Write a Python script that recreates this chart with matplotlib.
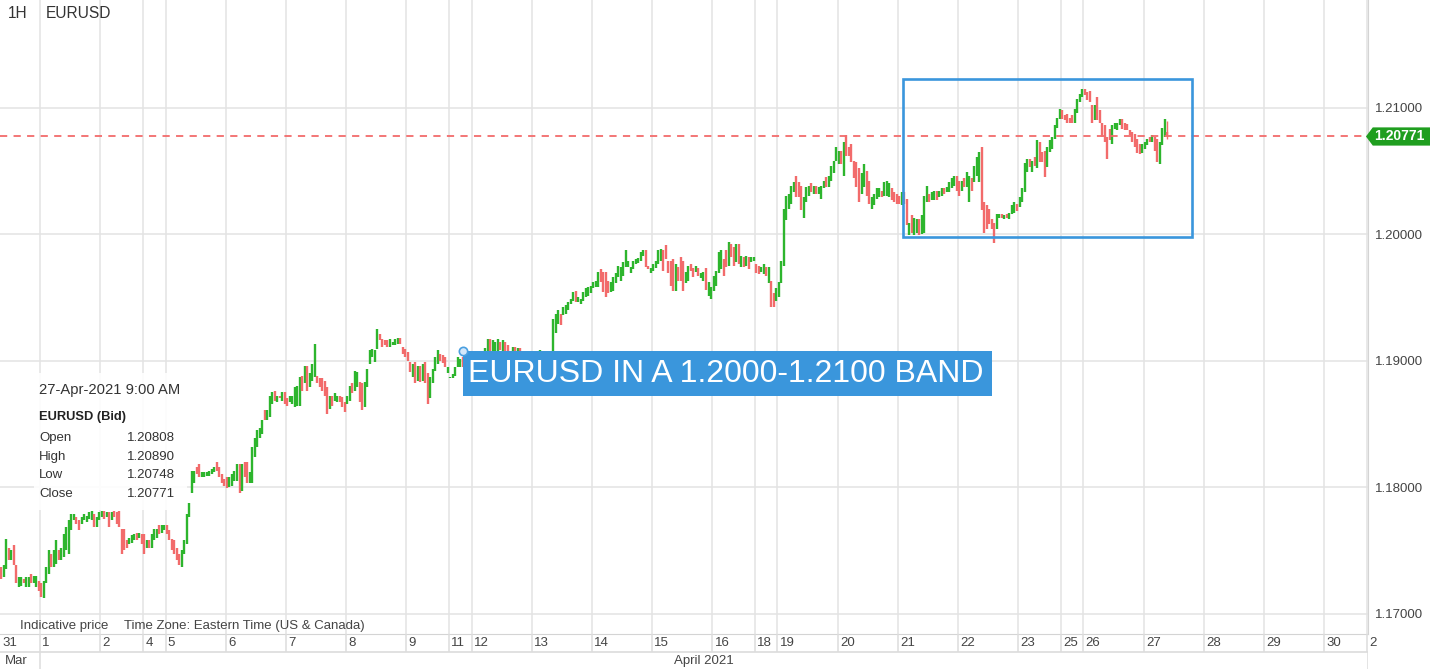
import matplotlib.pyplot as plt
import matplotlib.transforms as mtransforms
from matplotlib.patches import Rectangle, Polygon
import numpy as np

plt.rcParams['font.family'] = ['Liberation Sans', 'DejaVu Sans']

# hourly EURUSD bars, (open, close) per hour, one list per trading day
mar31 = [(1.1737, 1.1727), (1.1729, 1.1738), (1.1735, 1.1759), (1.1752, 1.1742), (1.1742, 1.1750),
         (1.1754, 1.1738), (1.1738, 1.1724), (1.1721, 1.1729), (1.1722, 1.1729), (1.1727, 1.1724),
         (1.1721, 1.1729), (1.1721, 1.1729), (1.1731, 1.1724), (1.1724, 1.1730), (1.1721, 1.1730),
         (1.1726, 1.1718)]
apr01 = [(1.1724, 1.1713), (1.1712, 1.1726), (1.1724, 1.1737), (1.1731, 1.1750), (1.1747, 1.1737),
         (1.1737, 1.1750), (1.1739, 1.1758), (1.1750, 1.1742), (1.1742, 1.1752), (1.1745, 1.1763),
         (1.1750, 1.1768), (1.1747, 1.1774), (1.1766, 1.1779), (1.1774, 1.1779), (1.1776, 1.1771),
         (1.1774, 1.1766), (1.1771, 1.1776), (1.1774, 1.1779), (1.1772, 1.1777), (1.1775, 1.1780),
         (1.1774, 1.1781), (1.1779, 1.1768), (1.1768, 1.1776), (1.1774, 1.1780)]
apr02 = [(1.1776, 1.1781), (1.1781, 1.1775), (1.1776, 1.1780), (1.1780, 1.1768), (1.1774, 1.1780),
         (1.1781, 1.1776), (1.1780, 1.1771), (1.1781, 1.1768), (1.1767, 1.1747), (1.1767, 1.1750),
         (1.1758, 1.1752), (1.1755, 1.1760), (1.1756, 1.1762), (1.1758, 1.1763), (1.1764, 1.1758),
         (1.1760, 1.1764), (1.1763, 1.1755)]
apr04 = [(1.1763, 1.1747), (1.1752, 1.1758), (1.1758, 1.1752), (1.1752, 1.1763), (1.1758, 1.1767),
         (1.1760, 1.1767), (1.1770, 1.1763), (1.1764, 1.1770), (1.1766, 1.1770)]
apr05 = [(1.1770, 1.1763), (1.1766, 1.1758), (1.1759, 1.1750), (1.1758, 1.1747), (1.1752, 1.1742),
         (1.1747, 1.1738), (1.1737, 1.1750), (1.1747, 1.1758), (1.1755, 1.1779), (1.1776, 1.1787),
         (1.1795, 1.1813), (1.1803, 1.1813), (1.1816, 1.1810), (1.1818, 1.1808), (1.1808, 1.1812),
         (1.1808, 1.1812), (1.1809, 1.1812), (1.1809, 1.1813), (1.1810, 1.1814), (1.1812, 1.1816),
         (1.1820, 1.1813), (1.1816, 1.1808), (1.1810, 1.1803), (1.1806, 1.1801)]
apr06 = [(1.1808, 1.1799), (1.1800, 1.1808), (1.1801, 1.1810), (1.1805, 1.1813), (1.1805, 1.1818),
         (1.1818, 1.1795), (1.1797, 1.1818), (1.1820, 1.1808), (1.1820, 1.1803), (1.1803, 1.1812),
         (1.1803, 1.1832), (1.1824, 1.1839), (1.1832, 1.1845), (1.1839, 1.1847), (1.1842, 1.1853),
         (1.1861, 1.1853), (1.1853, 1.1861), (1.1855, 1.1872), (1.1866, 1.1875), (1.1876, 1.1868),
         (1.1867, 1.1872), (1.1872, 1.1870), (1.1868, 1.1875), (1.1875, 1.1866)]
apr07 = [(1.1870, 1.1864), (1.1867, 1.1872), (1.1866, 1.1872), (1.1863, 1.1879), (1.1864, 1.1880),
         (1.1864, 1.1887), (1.1888, 1.1876), (1.1882, 1.1896), (1.1896, 1.1876), (1.1879, 1.1890),
         (1.1884, 1.1897), (1.1887, 1.1913), (1.1888, 1.1882), (1.1886, 1.1879), (1.1886, 1.1876),
         (1.1884, 1.1872), (1.1879, 1.1858), (1.1862, 1.1872), (1.1872, 1.1864), (1.1868, 1.1874),
         (1.1867, 1.1872), (1.1872, 1.1867), (1.1871, 1.1863), (1.1867, 1.1859)]
apr08 = [(1.1866, 1.1872), (1.1868, 1.1880), (1.1882, 1.1874), (1.1876, 1.1892), (1.1879, 1.1891),
         (1.1883, 1.1867), (1.1882, 1.1861), (1.1863, 1.1883), (1.1879, 1.1893), (1.1897, 1.1908),
         (1.1903, 1.1909), (1.1899, 1.1908), (1.1909, 1.1925), (1.1921, 1.1916), (1.1917, 1.1911),
         (1.1916, 1.1912), (1.1916, 1.1911), (1.1911, 1.1917), (1.1912, 1.1915), (1.1912, 1.1917),
         (1.1913, 1.1918), (1.1918, 1.1913), (1.1911, 1.1905), (1.1909, 1.1903)]
apr09 = [(1.1907, 1.1900), (1.1899, 1.1891), (1.1887, 1.1897), (1.1899, 1.1882), (1.1884, 1.1896),
         (1.1896, 1.1883), (1.1884, 1.1897), (1.1899, 1.1882), (1.1890, 1.1866), (1.1870, 1.1887),
         (1.1882, 1.1893), (1.1892, 1.1903), (1.1897, 1.1908), (1.1905, 1.1900), (1.1904, 1.1898),
         (1.1903, 1.1895), (1.1890, 1.1895)]
apr11 = [(1.1886, 1.1887), (1.1886, 1.1889), (1.1888, 1.1895), (1.1895, 1.1903), (1.1895, 1.1901),
         (1.1903, 1.1895), (1.1905, 1.1896), (1.1896, 1.1902), (1.1902, 1.1896)]
apr12 = [(1.1896, 1.1890), (1.1890, 1.1884), (1.1884, 1.1876), (1.1872, 1.1880), (1.1880, 1.1895),
         (1.1895, 1.1910), (1.1900, 1.1917), (1.1917, 1.1905), (1.1905, 1.1916), (1.1906, 1.1915),
         (1.1904, 1.1917), (1.1915, 1.1908), (1.1904, 1.1916), (1.1915, 1.1905), (1.1912, 1.1903),
         (1.1907, 1.1900), (1.1901, 1.1911), (1.1911, 1.1904), (1.1903, 1.1910), (1.1910, 1.1898),
         (1.1900, 1.1893), (1.1893, 1.1899), (1.1899, 1.1892), (1.1892, 1.1898)]
apr13 = [(1.1898, 1.1903), (1.1903, 1.1897), (1.1897, 1.1904), (1.1900, 1.1908), (1.1906, 1.1898),
         (1.1898, 1.1902), (1.1902, 1.1896), (1.1896, 1.1901), (1.1907, 1.1933), (1.1922, 1.1937),
         (1.1929, 1.1940), (1.1937, 1.1928), (1.1936, 1.1942), (1.1937, 1.1944), (1.1940, 1.1946),
         (1.1945, 1.1949), (1.1947, 1.1954), (1.1955, 1.1946), (1.1946, 1.1950), (1.1945, 1.1949),
         (1.1947, 1.1954), (1.1950, 1.1957), (1.1951, 1.1958), (1.1953, 1.1959)]
apr14 = [(1.1957, 1.1962), (1.1958, 1.1963), (1.1958, 1.1970), (1.1972, 1.1962), (1.1970, 1.1954),
         (1.1970, 1.1950), (1.1963, 1.1953), (1.1954, 1.1962), (1.1955, 1.1966), (1.1961, 1.1969),
         (1.1966, 1.1975), (1.1963, 1.1974), (1.1967, 1.1978), (1.1974, 1.1987), (1.1974, 1.1979),
         (1.1969, 1.1974), (1.1972, 1.1979), (1.1976, 1.1980), (1.1977, 1.1981), (1.1979, 1.1986),
         (1.1983, 1.1987), (1.1987, 1.1974), (1.1975, 1.1972), (1.1969, 1.1973)]
apr15 = [(1.1971, 1.1976), (1.1973, 1.1979), (1.1976, 1.1987), (1.1979, 1.1988), (1.1987, 1.1971),
         (1.1991, 1.1980), (1.1979, 1.1969), (1.1979, 1.1959), (1.1980, 1.1955), (1.1955, 1.1976),
         (1.1974, 1.1963), (1.1982, 1.1963), (1.1979, 1.1955), (1.1961, 1.1970), (1.1963, 1.1975),
         (1.1976, 1.1971), (1.1973, 1.1966), (1.1970, 1.1975), (1.1973, 1.1967), (1.1965, 1.1969),
         (1.1963, 1.1970), (1.1973, 1.1956), (1.1951, 1.1962), (1.1949, 1.1958)]
apr16 = [(1.1955, 1.1967), (1.1959, 1.1971), (1.1969, 1.1986), (1.1972, 1.1987), (1.1980, 1.1967),
         (1.1987, 1.1974), (1.1975, 1.1994), (1.1992, 1.1982), (1.1990, 1.1975), (1.1978, 1.1992),
         (1.1992, 1.1976), (1.1974, 1.1983), (1.1982, 1.1974), (1.1975, 1.1983), (1.1982, 1.1972),
         (1.1978, 1.1982), (1.1979, 1.1982)]
apr18 = [(1.1976, 1.1969), (1.1975, 1.1968), (1.1970, 1.1974), (1.1968, 1.1976), (1.1974, 1.1967),
         (1.1961, 1.1974), (1.1963, 1.1942), (1.1953, 1.1942), (1.1947, 1.1957)]
apr19 = [(1.1950, 1.1962), (1.1961, 1.1979), (1.1975, 1.2020), (1.2011, 1.2030), (1.2020, 1.2032),
         (1.2024, 1.2038), (1.2033, 1.2041), (1.2046, 1.2029), (1.2041, 1.2029), (1.2038, 1.2019),
         (1.2013, 1.2029), (1.2025, 1.2037), (1.2030, 1.2038), (1.2040, 1.2033), (1.2032, 1.2038),
         (1.2038, 1.2032), (1.2032, 1.2037), (1.2028, 1.2038), (1.2036, 1.2042), (1.2045, 1.2037),
         (1.2037, 1.2046), (1.2042, 1.2054), (1.2048, 1.2058), (1.2058, 1.2069)]
apr20 = [(1.2055, 1.2066), (1.2066, 1.2055), (1.2046, 1.2073), (1.2078, 1.2062), (1.2069, 1.2062),
         (1.2071, 1.2057), (1.2058, 1.2044), (1.2057, 1.2037), (1.2052, 1.2025), (1.2032, 1.2048),
         (1.2037, 1.2055), (1.2050, 1.2030), (1.2042, 1.2024), (1.2020, 1.2029), (1.2023, 1.2032),
         (1.2028, 1.2036), (1.2029, 1.2036), (1.2034, 1.2029), (1.2030, 1.2041), (1.2030, 1.2042),
         (1.2029, 1.2040), (1.2036, 1.2027), (1.2033, 1.2025), (1.2032, 1.2024)]
apr21 = [(1.2030, 1.2024), (1.2023, 1.2033), (1.2033, 1.2024), (1.2028, 1.2007), (1.1999, 1.2009),
         (1.2015, 1.2001), (1.1999, 1.2013), (1.2001, 1.2012), (1.2012, 1.1999), (1.2000, 1.2015),
         (1.2001, 1.2030), (1.2025, 1.2038), (1.2032, 1.2025), (1.2027, 1.2033), (1.2027, 1.2034),
         (1.2034, 1.2027), (1.2029, 1.2034), (1.2030, 1.2036), (1.2036, 1.2032), (1.2033, 1.2037),
         (1.2033, 1.2041), (1.2036, 1.2044), (1.2038, 1.2046), (1.2046, 1.2034)]
apr22 = [(1.2042, 1.2030), (1.2034, 1.2042), (1.2044, 1.2037), (1.2037, 1.2049), (1.2025, 1.2046),
         (1.2044, 1.2034), (1.2041, 1.2054), (1.2046, 1.2061), (1.2041, 1.2065), (1.2069, 1.2019),
         (1.2025, 1.2001), (1.2023, 1.2004), (1.2020, 1.2008), (1.2012, 1.2004), (1.2009, 1.1993),
         (1.2004, 1.2016), (1.2013, 1.2016), (1.2016, 1.2013), (1.2012, 1.2015), (1.2016, 1.2013),
         (1.2012, 1.2017), (1.2016, 1.2023), (1.2017, 1.2025), (1.2024, 1.2018)]
apr23 = [(1.2021, 1.2029), (1.2025, 1.2036), (1.2033, 1.2056), (1.2049, 1.2059), (1.2059, 1.2053),
         (1.2049, 1.2058), (1.2061, 1.2054), (1.2052, 1.2074), (1.2073, 1.2057), (1.2065, 1.2057),
         (1.2066, 1.2045), (1.2053, 1.2069), (1.2065, 1.2074), (1.2067, 1.2077), (1.2075, 1.2086),
         (1.2084, 1.2092), (1.2091, 1.2099)]
apr25 = [(1.2098, 1.2091), (1.2094, 1.2090), (1.2095, 1.2088), (1.2092, 1.2088), (1.2094, 1.2088),
         (1.2088, 1.2099), (1.2096, 1.2107), (1.2104, 1.2111), (1.2108, 1.2115)]
apr26 = [(1.2115, 1.2110), (1.2112, 1.2106), (1.2113, 1.2104), (1.2102, 1.2088), (1.2090, 1.2102),
         (1.2108, 1.2090), (1.2098, 1.2088), (1.2088, 1.2077), (1.2086, 1.2073), (1.2077, 1.2059),
         (1.2083, 1.2074), (1.2071, 1.2086), (1.2083, 1.2088), (1.2082, 1.2088), (1.2086, 1.2091),
         (1.2091, 1.2083), (1.2088, 1.2082), (1.2087, 1.2082), (1.2082, 1.2078), (1.2081, 1.2073),
         (1.2079, 1.2069), (1.2075, 1.2064), (1.2071, 1.2063), (1.2064, 1.2071)]
apr27 = [(1.2067, 1.2073), (1.2070, 1.2075), (1.2077, 1.2073), (1.2073, 1.2078), (1.2077, 1.2066),
         (1.2075, 1.2057), (1.2055, 1.2073), (1.2070, 1.2084), (1.2077, 1.2091), (1.20808, 1.20771)]

day_bars = [mar31, apr01, apr02, apr04, apr05, apr06, apr07, apr08, apr09, apr11, apr12, apr13,
            apr14, apr15, apr16, apr18, apr19, apr20, apr21, apr22, apr23, apr25, apr26, apr27]

# trading-day labels on the time axis and hourly slots in each (Fri short, Sun evening open)
day_labels = ['31', '1', '2', '4', '5', '6', '7', '8', '9', '11', '12', '13', '14', '15', '16',
              '18', '19', '20', '21', '22', '23', '25', '26', '27', '28', '29', '30', '2']
day_slots = [16, 24, 17, 9, 24, 24, 24, 24, 17, 9, 24, 24, 24, 24, 17, 9, 24, 24, 24, 24, 17, 9,
             24, 24, 24, 24, 17, 9]

price_ticks = [1.17, 1.18, 1.19, 1.20, 1.21]
last_time = '27-Apr-2021 9:00 AM'
ohlc_names = ['Open', 'High', 'Low', 'Close']
ohlc_values = [1.20808, 1.20890, 1.20748, 1.20771]
last_price = 1.20771
note = 'EURUSD IN A 1.2000-1.2100 BAND'

GREEN = '#2db52d'
RED = '#f26b6b'
GRID = '#e3e3e3'
BLUE = '#3a96dc'
TXT = '#444444'

starts = np.concatenate([[0], np.cumsum(day_slots)[:-1]])
XMAX = starts[-1] + 0.45

W, H = 1430, 669
fig = plt.figure(figsize=(W / 100, H / 100), dpi=100)
ax = fig.add_axes([0, 35 / H, 1368 / W, 634 / H])
ax.set_xlim(0, XMAX)
ax.set_ylim(1.16838, 1.21850)

# grid
ax.set_yticks(price_ticks)
ax.set_yticklabels(['%.5f' % p for p in price_ticks])
ax.yaxis.tick_right()
ax.tick_params(axis='y', length=0, pad=5, labelsize=9.5, labelcolor=TXT)
ax.set_xticks([])
ax.grid(axis='y', color=GRID, lw=1.1, zorder=0)
ax.vlines(starts[1:], 0, 1, transform=ax.get_xaxis_transform(), color=GRID, lw=1.1, zorder=0)
for s in ['top', 'left']:
    ax.spines[s].set_visible(False)
for s in ['bottom', 'right']:
    ax.spines[s].set_color('#d4d4d4')

# candles
xs, lo, hi, cols = [], [], [], []
for start, bars in zip(starts, day_bars):
    for k, (o, c) in enumerate(bars):
        xs.append(start + k + 0.5)
        lo.append(min(o, c))
        hi.append(max(o, c))
        cols.append(GREEN if c >= o else RED)
ax.vlines(xs, lo, hi, colors=cols, lw=1.7, zorder=2)
# wick of the last bar from the tooltip values
ax.vlines(xs[-1], ohlc_values[2], ohlc_values[1], colors=cols[-1], lw=1.0, zorder=2)

# last price line and tag
ax.axhline(last_price, color=RED, lw=1.3, ls=(0, (4, 3.5)), zorder=3)
tr = mtransforms.blended_transform_factory(ax.transAxes, ax.transData)
hh = 0.00072
tag = Polygon([(0.9985, last_price), (1.0035, last_price + hh), (1.0460, last_price + hh),
               (1.0460, last_price - hh), (1.0035, last_price - hh)],
              closed=True, transform=tr, facecolor='#1f9e1f', edgecolor='none', clip_on=False, zorder=6)
ax.add_patch(tag)
ax.text(1.0042, last_price, '%.5f' % last_price, transform=tr, color='white', fontsize=10,
        fontweight='bold', va='center', ha='left', clip_on=False, zorder=7)

# band box
ax.add_patch(Rectangle((360.0, 1.19976), 115.3, 0.01249, facecolor='none', edgecolor=BLUE,
                       lw=1.9, zorder=4))

# note label
ax.add_patch(Rectangle((184.6, 1.18719), 210.9, 0.00356, facecolor=BLUE, edgecolor='none', zorder=6))
ax.text(186.6, 1.18895, note, color='white', fontsize=23, va='center', ha='left', zorder=7)
ax.plot([184.6], [1.19075], marker='o', ms=6, mfc='#d3e8fb', mec='#4a9fe0', mew=1.2, zorder=8)


def fx(px):
    return px / 1368


def fy(py):
    return 1 - py / 634


# top-left titles
ax.text(fx(8), fy(14), '1H', transform=ax.transAxes, fontsize=11.2, color='#333333', va='center')
ax.text(fx(46), fy(14), 'EURUSD', transform=ax.transAxes, fontsize=11.2, color='#333333', va='center')

# tooltip panel
ax.add_patch(Rectangle((fx(34), fy(510)), 153 / 1368, 137 / 634, transform=ax.transAxes,
                       facecolor='white', alpha=0.9, edgecolor='none', zorder=5))
ax.text(fx(39), fy(390), last_time, transform=ax.transAxes, fontsize=10.6, color='#333333',
        va='center', zorder=6)
ax.text(fx(39), fy(417), 'EURUSD (Bid)', transform=ax.transAxes, fontsize=9.3, fontweight='bold',
        color='#222222', va='center', zorder=6)
for j, (name, val) in enumerate(zip(ohlc_names, ohlc_values)):
    yy = fy(438 + j * 18.7)
    ax.text(fx(39), yy, name, transform=ax.transAxes, fontsize=9.5, color='#333333', va='center', zorder=6)
    ax.text(fx(127), yy, '%.5f' % val, transform=ax.transAxes, fontsize=9.5, color='#333333',
            va='center', zorder=6)

# footer
ax.text(fx(20), fy(626), 'Indicative price', transform=ax.transAxes, fontsize=9.5, color=TXT, va='center')
ax.text(fx(124), fy(626), 'Time Zone: Eastern Time (US & Canada)', transform=ax.transAxes,
        fontsize=9.5, color=TXT, va='center')

# date rows
ax2 = fig.add_axes([0, 0, 1368 / W, 35 / H])
ax2.set_xlim(0, XMAX)
ax2.set_ylim(0, 35)
ax2.axis('off')
ax2.hlines([17], 0, XMAX, color='#d8d8d8', lw=1.1)
ax2.vlines(starts[1:], 17, 35, color='#dcdcdc', lw=1.1)
ax2.vlines([starts[1], XMAX], 0, 17, color='#dcdcdc', lw=1.1)
for start, lab in zip(starts, day_labels):
    ax2.text(start + 0.9, 26, lab, fontsize=9.5, color=TXT, va='center', ha='left', clip_on=False)
ax2.text(2, 8, 'Mar', fontsize=9.5, color=TXT, va='center', ha='left')
ax2.text((starts[1] + XMAX) / 2, 8, 'April 2021', fontsize=9.5, color=TXT, va='center', ha='center')

fig.savefig('out.png', dpi=100)
